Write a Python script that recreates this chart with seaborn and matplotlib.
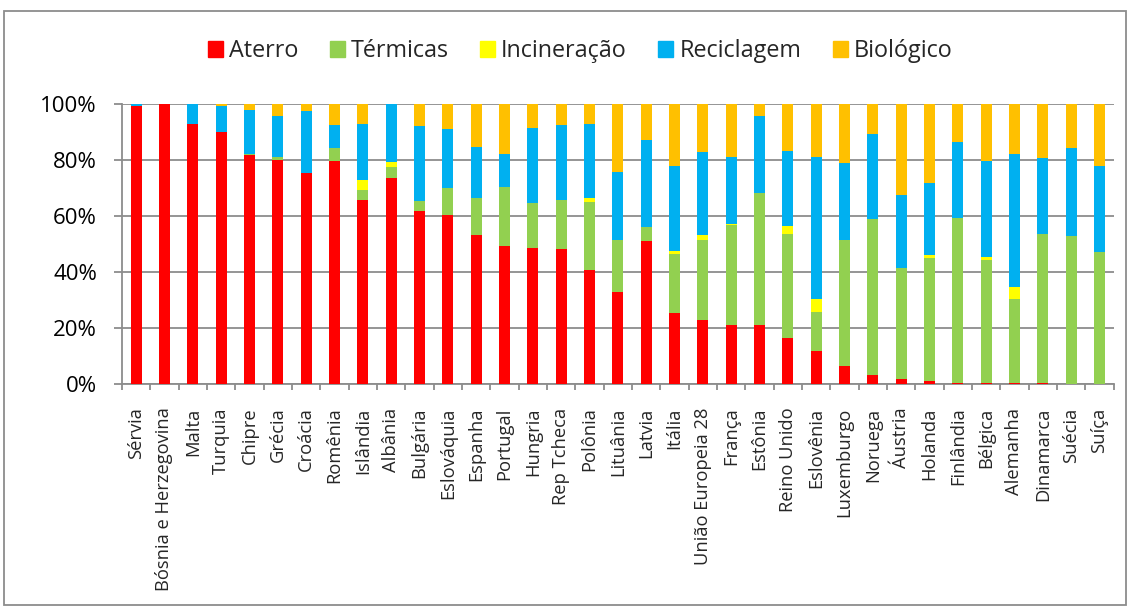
import matplotlib
matplotlib.use("Agg")
import matplotlib.pyplot as plt
import matplotlib.patches as mpatches
from matplotlib.ticker import FixedLocator, FuncFormatter
import numpy as np
import seaborn as sns

paises = ["Sérvia", "Bósnia e Herzegovina", "Malta", "Turquia", "Chipre", "Grécia",
          "Croácia", "Romênia", "Islândia", "Albânia", "Bulgária", "Eslováquia",
          "Espanha", "Portugal", "Hungria", "Rep Tcheca", "Polônia", "Lituânia",
          "Latvia", "Itália", "União Europeia 28", "França", "Estônia", "Reino Unido",
          "Eslovênia", "Luxemburgo", "Noruega", "Áustria", "Holanda", "Finlândia",
          "Bélgica", "Alemanha", "Dinamarca", "Suécia", "Suíça"]

aterro = [99.4, 100.0, 93.0, 90.1, 81.7, 80.0, 75.2, 79.5, 65.8, 73.6, 61.8, 60.3,
          53.3, 49.3, 48.4, 48.1, 40.8, 32.8, 51.1, 25.4, 23.0, 21.2, 20.9, 16.3,
          11.9, 6.6, 3.3, 1.8, 1.0, 0.5, 0.5, 0.5, 0.5, 0.0, 0.0]
termicas = [0.0, 0.0, 0.0, 0.0, 0.6, 0.9, 0.0, 4.7, 3.5, 4.0, 3.5, 9.7,
            13.0, 20.9, 16.3, 17.7, 24.1, 18.5, 4.9, 21.0, 28.4, 35.7, 47.2, 37.3,
            13.8, 44.7, 55.8, 39.5, 44.0, 58.8, 43.8, 29.8, 53.0, 53.0, 47.3]
incineracao = [0.0, 0.0, 0.0, 0.0, 0.0, 0.0, 0.0, 0.0, 3.7, 1.8, 0.0, 0.0,
               0.0, 0.0, 0.0, 0.0, 1.7, 0.0, 0.0, 1.0, 1.7, 0.3, 0.0, 2.8,
               4.5, 0.0, 0.0, 0.0, 1.1, 0.0, 0.9, 4.2, 0.0, 0.0, 0.0]
reciclagem = [0.6, 0.0, 7.0, 9.3, 15.6, 14.8, 22.3, 8.2, 20.0, 20.6, 26.8, 21.1,
              18.2, 12.0, 26.8, 26.8, 26.4, 24.5, 31.1, 30.4, 29.8, 23.7, 27.7, 26.8,
              50.8, 27.7, 30.3, 26.1, 25.7, 27.3, 34.4, 47.5, 27.3, 31.4, 30.7]
biologico = [0.0, 0.0, 0.0, 0.6, 2.1, 4.3, 2.5, 7.6, 7.0, 0.0, 7.9, 8.9,
             15.5, 17.8, 8.5, 7.4, 7.0, 24.2, 12.9, 22.2, 17.1, 19.1, 4.2, 16.8,
             19.0, 21.0, 10.6, 32.6, 28.2, 13.4, 20.4, 18.0, 19.2, 15.6, 22.0]

series = ["Aterro", "Térmicas", "Incineração", "Reciclagem", "Biológico"]
cores = ["#FF0000", "#92D050", "#FFFF00", "#00B0F0", "#FFC000"]
valores = [aterro, termicas, incineracao, reciclagem, biologico]

sns.set_style("white")
plt.rcParams["font.family"] = ["Open Sans", "DejaVu Sans"]

fig = plt.figure(figsize=(11.3, 6.15), dpi=100)
ax = fig.add_axes([122 / 1130, 1 - 384 / 615, (1113.6 - 122) / 1130, 280 / 615])

grid_c = "#8C8C8C"
base = np.zeros(len(paises))
for nome, cor, vals in zip(series, cores, valores):
    v = np.array(vals, dtype=float)
    sns.barplot(x=paises, y=v, bottom=base, color=cor, width=0.39,
                label=nome, errorbar=None, ax=ax, saturation=1,
                linewidth=0, zorder=3)
    base = base + v

ax.set_xlim(-0.5, len(paises) - 0.5)
ax.set_ylim(0, 100)
ax.yaxis.set_major_locator(FixedLocator([0, 20, 40, 60, 80, 100]))
ax.yaxis.set_major_formatter(FuncFormatter(lambda v, p: f"{v:.0f}%"))
ax.grid(axis="y", color=grid_c, linewidth=1.3, zorder=0)
ax.set_axisbelow(True)
for s in ["top", "right"]:
    ax.spines[s].set_visible(False)
for s in ["left", "bottom"]:
    ax.spines[s].set_visible(True)
    ax.spines[s].set_color(grid_c)
    ax.spines[s].set_linewidth(1.3)

ax.tick_params(axis="y", left=True, length=6, width=1.3, color=grid_c,
               labelsize=16, pad=12, labelcolor="black")
ax.set_xticks(range(len(paises)))
ax.set_xticklabels(paises, rotation=90, fontsize=13.2)
ax.tick_params(axis="x", which="major", length=0, pad=17)
ax.xaxis.set_minor_locator(FixedLocator(np.arange(-0.5, len(paises), 1.0)))
ax.tick_params(axis="x", which="minor", bottom=True, length=4, width=1.3, color=grid_c)
ax.set_xlabel("")
ax.set_ylabel("")

if ax.legend_:
    ax.legend_.remove()
handles = [mpatches.Patch(color=c, label=n) for n, c in zip(series, cores)]
fig.legend(handles=handles, loc="center", bbox_to_anchor=(580 / 1130, 1 - 51 / 615),
           ncol=5, frameon=False, fontsize=16.8, handlelength=0.65, handleheight=0.65,
           handletextpad=0.25, columnspacing=1.35)

fig.patches.append(mpatches.Rectangle((4 / 1130, 1 - 605 / 615), 1122 / 1130, 594 / 615,
                                      transform=fig.transFigure, fill=False,
                                      edgecolor="#8C8C8C", linewidth=1.3))

fig.savefig("out.png", dpi=100)
